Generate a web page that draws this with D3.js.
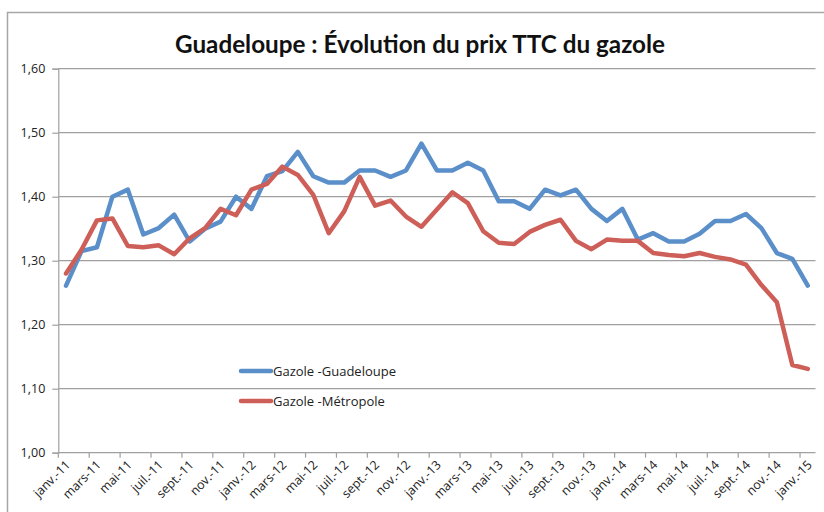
<!DOCTYPE html>
<html lang="fr">
<head>
  <meta charset="UTF-8">
  <title>Guadeloupe : Évolution du prix TTC du gazole</title>
  <style>
    body {
      margin: 0;
      background: #fff;
      font-family: "Open Sans", Arial, sans-serif;
    }
    .tick-label {
      font-size: 12.5px;
      fill: #222;
    }
  </style>
</head>
<body>
  <svg id="chart" width="824" height="512"></svg>

  <script src="https://d3js.org/d3.v7.min.js"></script>
  <script>
    // mois de janv.-11 à janv.-15
    const months = [
      "janv.-11", "févr.-11", "mars-11", "avr.-11", "mai-11", "juin-11", "juil.-11", "août-11", "sept.-11", "oct.-11", "nov.-11", "déc.-11",
      "janv.-12", "févr.-12", "mars-12", "avr.-12", "mai-12", "juin-12", "juil.-12", "août-12", "sept.-12", "oct.-12", "nov.-12", "déc.-12",
      "janv.-13", "févr.-13", "mars-13", "avr.-13", "mai-13", "juin-13", "juil.-13", "août-13", "sept.-13", "oct.-13", "nov.-13", "déc.-13",
      "janv.-14", "févr.-14", "mars-14", "avr.-14", "mai-14", "juin-14", "juil.-14", "août-14", "sept.-14", "oct.-14", "nov.-14", "déc.-14",
      "janv.-15"
    ];

    const guadeloupe = [
      1.261, 1.315, 1.321, 1.400, 1.411, 1.341, 1.351, 1.372, 1.330, 1.350, 1.361, 1.400,
      1.381, 1.432, 1.440, 1.470, 1.432, 1.422, 1.422, 1.441, 1.441, 1.431, 1.441, 1.483,
      1.441, 1.441, 1.453, 1.441, 1.393, 1.393, 1.381, 1.411, 1.402, 1.411, 1.381, 1.362,
      1.381, 1.333, 1.343, 1.330, 1.330, 1.342, 1.362, 1.362, 1.373, 1.351, 1.312, 1.303,
      1.261
    ];

    const metropole = [
      1.280, 1.317, 1.363, 1.366, 1.323, 1.321, 1.324, 1.310, 1.335, 1.351, 1.381, 1.371,
      1.411, 1.420, 1.447, 1.434, 1.403, 1.343, 1.377, 1.431, 1.386, 1.394, 1.369, 1.353,
      1.380, 1.407, 1.390, 1.346, 1.328, 1.326, 1.345, 1.356, 1.364, 1.331, 1.318, 1.333,
      1.331, 1.331, 1.312, 1.309, 1.307, 1.312, 1.306, 1.302, 1.294, 1.262, 1.235, 1.137,
      1.131
    ];

    const yTicks = [1.0, 1.1, 1.2, 1.3, 1.4, 1.5, 1.6];

    const series = [
      { name: "Gazole -Guadeloupe", values: guadeloupe, color: "#5a8fc9" },
      { name: "Gazole -Métropole", values: metropole, color: "#cd5f58" }
    ];

    const svg = d3.select("#chart");
    const grey = "#a0a0a0";
    const plotLeft = 58.3, plotRight = 815.5, plotTop = 68.7, plotBottom = 452.7;

    const x = d3.scaleBand()
      .domain(months)
      .range([plotLeft, plotRight]);

    const y = d3.scaleLinear()
      .domain([1.0, 1.6])
      .range([plotBottom, plotTop]);

    const fmt = d => d3.format(".2f")(d).replace(".", ",");

    // cadre du graphique
    svg.append("rect")
      .attr("x", 7.5)
      .attr("y", 12.5)
      .attr("width", 830)
      .attr("height", 520)
      .attr("fill", "none")
      .attr("stroke", "#a6a6a6")
      .attr("stroke-width", 1.5);

    // titre
    svg.append("text")
      .attr("x", 420)
      .attr("y", 53)
      .attr("text-anchor", "middle")
      .attr("textLength", 490)
      .attr("lengthAdjust", "spacingAndGlyphs")
      .style("font-family", "Lato, 'Open Sans', sans-serif")
      .style("font-weight", "bold")
      .style("font-size", "24px")
      .style("fill", "#111")
      .text("Guadeloupe : Évolution du prix TTC du gazole");

    // grille + axe Y
    svg.append("g")
      .selectAll("line")
      .data(yTicks.filter(d => d > 1.0))
      .join("line")
      .attr("x1", plotLeft)
      .attr("x2", plotRight)
      .attr("y1", d => y(d))
      .attr("y2", d => y(d))
      .attr("stroke", grey)
      .attr("stroke-width", 1.2);

    const yAxis = svg.append("g")
      .attr("transform", `translate(${plotLeft},0)`)
      .call(d3.axisLeft(y).tickValues(yTicks).tickFormat(fmt).tickSize(6).tickPadding(7));
    yAxis.select(".domain").attr("stroke", grey).attr("stroke-width", 1.2);
    yAxis.selectAll(".tick line").attr("stroke", grey).attr("stroke-width", 1.2);
    yAxis.selectAll(".tick text")
      .attr("class", "tick-label")
      .style("font-family", "'Open Sans', sans-serif");

    // axe X
    const xg = svg.append("g");
    xg.append("line")
      .attr("x1", plotLeft)
      .attr("x2", plotRight)
      .attr("y1", plotBottom)
      .attr("y2", plotBottom)
      .attr("stroke", grey)
      .attr("stroke-width", 1.2);

    const shown = months.filter((m, i) => i % 2 === 0);

    xg.selectAll(".xtick")
      .data(shown)
      .join("line")
      .attr("class", "xtick")
      .attr("x1", d => x(d))
      .attr("x2", d => x(d))
      .attr("y1", plotBottom)
      .attr("y2", plotBottom + 5)
      .attr("stroke", grey)
      .attr("stroke-width", 1.2);

    xg.selectAll(".xlabel")
      .data(shown)
      .join("text")
      .attr("class", "tick-label")
      .attr("text-anchor", "end")
      .attr("transform", d => `translate(${x(d) + x.bandwidth() / 2 + 5},${plotBottom + 13}) rotate(-45)`)
      .text(d => d);

    // courbes
    const line = d3.line()
      .x((d, i) => x(months[i]) + x.bandwidth() / 2)
      .y(d => y(d));

    svg.append("g")
      .selectAll("path")
      .data(series)
      .join("path")
      .attr("d", d => line(d.values))
      .attr("fill", "none")
      .attr("stroke", d => d.color)
      .attr("stroke-width", 4.5)
      .attr("stroke-linejoin", "round")
      .attr("stroke-linecap", "round");

    // légende
    const legend = svg.append("g")
      .selectAll("g")
      .data(series)
      .join("g")
      .attr("transform", (d, i) => `translate(241,${371 + i * 30})`);

    legend.append("line")
      .attr("x1", 0)
      .attr("x2", 30)
      .attr("stroke", d => d.color)
      .attr("stroke-width", 4.5)
      .attr("stroke-linecap", "round");

    legend.append("text")
      .attr("x", 32)
      .attr("dy", "0.36em")
      .style("font-size", "13px")
      .style("fill", "#222")
      .text(d => d.name);
  </script>
</body>
</html>
